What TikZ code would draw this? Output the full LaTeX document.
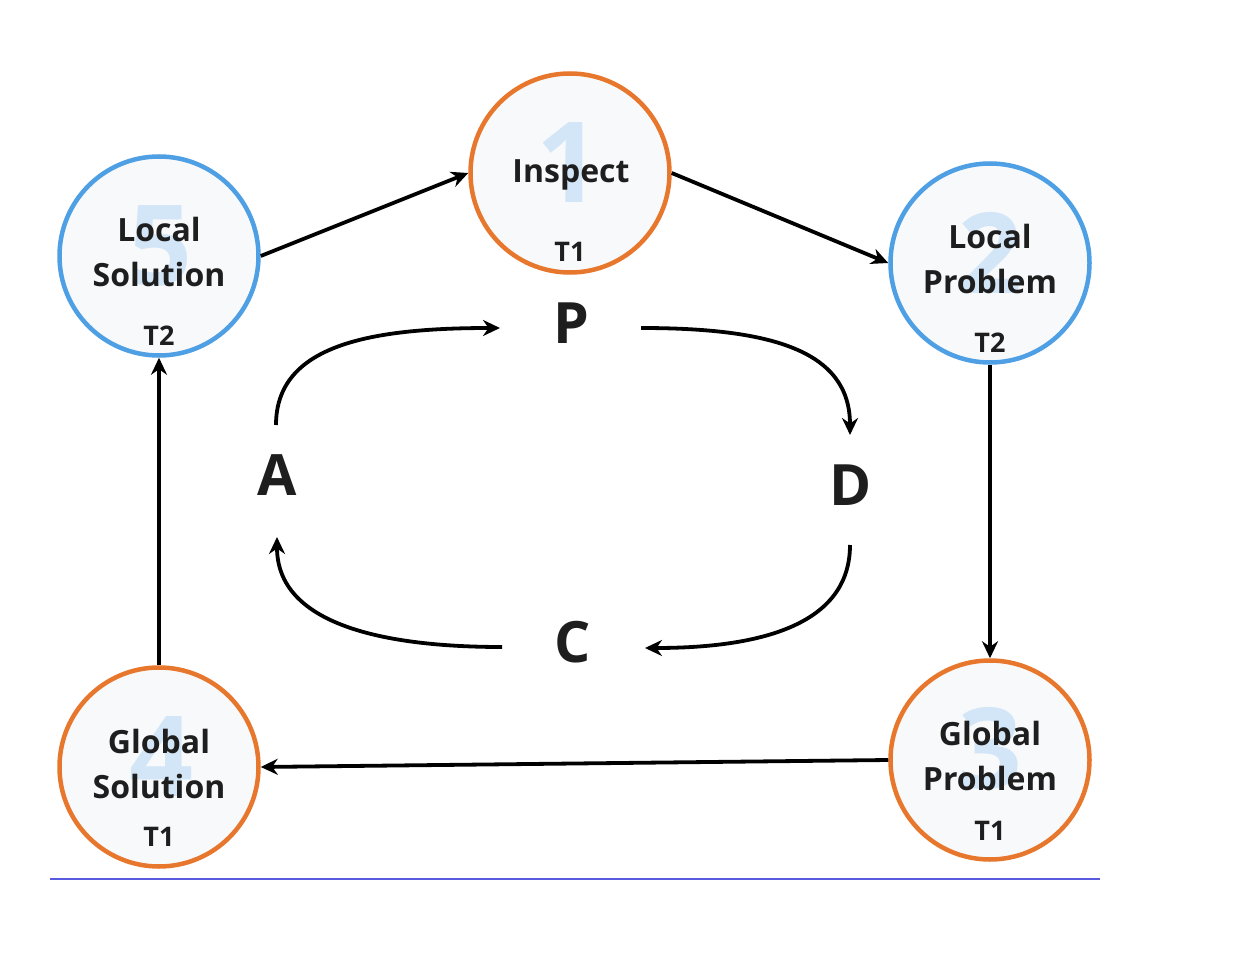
\documentclass[tikz,border=0pt]{standalone}
\usepackage{fontspec}
\setmainfont{Open Sans}
\usetikzlibrary{arrows.meta}
\definecolor{orng}{HTML}{E8772E}
\definecolor{blu}{HTML}{4E9FE3}
\definecolor{cfill}{HTML}{F8F9FB}
\definecolor{digit}{HTML}{D3E6F7}
\definecolor{ink}{HTML}{1E1E1E}
\definecolor{rulec}{HTML}{5A5AE0}
\begin{document}
\begin{tikzpicture}[x=1pt,y=-1pt,
  stage/.style={circle,draw,line width=4.5pt,fill=cfill,minimum size=199pt,inner sep=0pt},
  orangestage/.style={stage,draw=orng},
  bluestage/.style={stage,draw=blu},
  bignum/.style={text=digit,font=\bfseries\fontsize{112}{112}\selectfont,inner sep=0pt},
  title/.style={anchor=base,text=ink,font=\bfseries\fontsize{32}{32}\selectfont,inner sep=0pt},
  tag/.style={anchor=base,text=ink,font=\bfseries\fontsize{27}{27}\selectfont,inner sep=0pt},
  letter/.style={text=ink,font=\bfseries\fontsize{57}{57}\selectfont,inner sep=0pt},
  flow/.style={draw=black,line width=3.8pt,-{Stealth[length=17pt,width=16pt]}}
]
\useasboundingbox (0,0) rectangle (1234,976);
\fill[white] (0,0) rectangle (1234,976);

% stage circles
\node[orangestage] (insp)  at (570,173) {};
\node[bluestage]   (lsol)  at (159,256) {};
\node[bluestage]   (lprob) at (990,263) {};
\node[orangestage] (gsol)  at (159,767) {};
\node[orangestage] (gprob) at (990,760) {};

% faint step numbers
\node[bignum] (n1) at (568,163) {1};
\node[bignum] (n2) at (990,253) {2};
\node[bignum] (n3) at (990,748) {3};
\node[bignum] (n4) at (161,757) {4};
\node[bignum] (n5) at (160,246) {5};

% labels
\node[title] (t1) at (571,183) {Inspect};
\node[tag]   (g1) at (570,262) {T1};

\node[title] (t2a) at (990,249) {Local};
\node[title] (t2b) at (990,294) {Problem};
\node[tag]   (g2)  at (990,352) {T2};

\node[title] (t3a) at (990,745) {Global};
\node[title] (t3b) at (990,790) {Problem};
\node[tag]   (g3)  at (990,840) {T1};

\node[title] (t4a) at (159,753) {Global};
\node[title] (t4b) at (159,798) {Solution};
\node[tag]   (g4)  at (159,846) {T1};

\node[title] (t5a) at (159,242) {Local};
\node[title] (t5b) at (159,287) {Solution};
\node[tag]   (g5)  at (159,345) {T2};

% outer cycle
\draw[flow] (lsol.east) -- (insp.west);
\draw[flow] (insp.east) -- (lprob.west);
\draw[flow] (lprob.south) -- (gprob.north);
\draw[flow] (gprob.west) -- (gsol.east);
\draw[flow] (gsol.north) -- (lsol.south);

% PDCA letters
\node[letter] (P) at (571,323) {P};
\node[letter] (D) at (851,485) {D};
\node[letter] (C) at (573,642) {C};
\node[letter] (A) at (277,475) {A};

% inner cycle
\coordinate (aP1) at (276,425);
\coordinate (aP2) at (500,328);
\coordinate (pD1) at (641,328);
\coordinate (pD2) at (850,435);
\coordinate (dC1) at (850,545);
\coordinate (dC2) at (645,648);
\coordinate (cA1) at (502,647);
\coordinate (cA2) at (277,537);

\draw[flow] (aP1) .. controls (276,345) and (370,328) .. (aP2);
\draw[flow] (pD1) .. controls (770,328) and (850,350) .. (pD2);
\draw[flow] (dC1) .. controls (850,625) and (760,648) .. (dC2);
\draw[flow] (cA1) .. controls (385,647) and (277,625) .. (cA2);

% bottom rule
\draw[rulec,line width=1.3pt] (50,879) -- (1100,879);
\end{tikzpicture}
\end{document}
